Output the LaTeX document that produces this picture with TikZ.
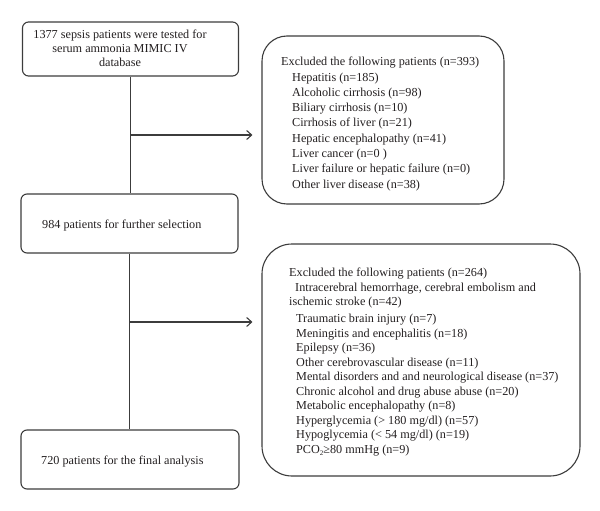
\documentclass[tikz,border=0pt]{standalone}
\usepackage{fontspec}
\setmainfont{Liberation Serif}
\usetikzlibrary{arrows.meta}
\definecolor{linegray}{HTML}{3C3C3C}
\definecolor{textblack}{HTML}{231F20}
\begin{document}
\begin{tikzpicture}[x=1pt,y=-1pt,
  smallbox/.style={draw=linegray, line width=1.1pt, rounded corners=6pt, inner sep=0pt},
  bigbox/.style={draw=linegray, line width=1.1pt, inner sep=0pt},
  txt/.style={inner sep=0pt, text=textblack, font=\fontsize{12.2}{14}\selectfont},
  conn/.style={draw=linegray, line width=1.1pt},
  arr/.style={conn, -{Straight Barb[length=5pt,width=9pt]}, shorten >=9pt}]
\useasboundingbox (0,0) rectangle (600,511);

% left column boxes
\node[smallbox, minimum width=216pt, minimum height=54pt] (b1) at (130.5,49) {};
\node[smallbox, minimum width=217pt, minimum height=59pt] (b3) at (129.5,223.5) {};
\node[smallbox, minimum width=218pt, minimum height=59pt] (b5) at (130,459.5) {};

% right column boxes
\node[bigbox, rounded corners=25pt, minimum width=242pt, minimum height=168pt] (b2) at (383,120) {};
\node[bigbox, rounded corners=30pt, minimum width=318pt, minimum height=232pt] (b4) at (421,360) {};

% texts
\node[txt, anchor=north, align=center] (t1) at (120,30)
  {1377 sepsis patients were tested for\\serum ammonia MIMIC IV\\database};
\node[txt, anchor=west] (t3) at (42,226) {984 patients for further selection};
\node[txt, anchor=west] (t5) at (41,462) {720 patients for the final analysis};

\node[txt, anchor=north west, align=left, font=\fontsize{12.2}{15.3}\selectfont] (t2) at (281,57)
  {Excluded the following patients (n=393)\\
   \hspace{11pt}Hepatitis (n=185)\\
   \hspace{11pt}Alcoholic cirrhosis (n=98)\\
   \hspace{11pt}Biliary cirrhosis (n=10)\\
   \hspace{11pt}Cirrhosis of liver (n=21)\\
   \hspace{11pt}Hepatic encephalopathy (n=41)\\
   \hspace{11pt}Liver cancer (n=0 )\\
   \hspace{11pt}Liver failure or hepatic failure (n=0)\\
   \hspace{11pt}Other liver disease (n=38)};

\node[txt, anchor=north west, align=left, font=\fontsize{12.2}{14.5}\selectfont] (t4) at (289,268)
  {Excluded the following patients (n=264)\\
   \hspace{6pt}Intracerebral hemorrhage, cerebral embolism and\\
   ischemic stroke (n=42)\\[2.5pt]
   \hspace{7pt}Traumatic brain injury (n=7)\\
   \hspace{7pt}Meningitis and encephalitis (n=18)\\
   \hspace{7pt}Epilepsy (n=36)\\
   \hspace{7pt}Other cerebrovascular disease (n=11)\\
   \hspace{7pt}Mental disorders and and neurological disease (n=37)\\
   \hspace{7pt}Chronic alcohol and drug abuse abuse (n=20)\\
   \hspace{7pt}Metabolic encephalopathy (n=8)\\
   \hspace{7pt}Hyperglycemia (> 180 mg/dl) (n=57)\\
   \hspace{7pt}Hypoglycemia (< 54 mg/dl) (n=19)\\
   \hspace{7pt}PCO{\fontsize{7}{8}\selectfont\raisebox{-2pt}{2}}≥80 mmHg (n=9)};

% connectors
\draw[conn] (b1.south) -- (b1.south |- b3.north);
\draw[conn] (b3.south) -- (b3.south |- b5.north);
\coordinate (j1) at (130.5,135);
\coordinate (j2) at (129.5,322);
\draw[arr] (j1) -- (j1 -| b2.west);
\draw[arr] (j2) -- (j2 -| b4.west);
\end{tikzpicture}
\end{document}
